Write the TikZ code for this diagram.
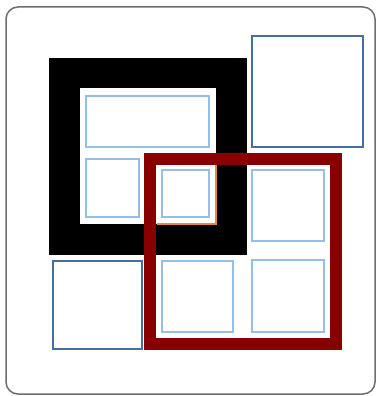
\documentclass[tikz,border=0pt]{standalone}
\usepackage{xcolor}
\definecolor{FrameGray}{RGB}{110,110,110}
\definecolor{CellBlue}{RGB}{150,190,230}
\definecolor{BoxBlue}{RGB}{70,110,160}
\definecolor{DarkRed}{RGB}{136,0,0}
\definecolor{EdgeOrange}{RGB}{235,140,40}

\begin{document}
\begin{tikzpicture}[
x=1pt,y=-1pt,
panel/.style={rectangle,rounded corners=12pt,draw=FrameGray,line width=1.5pt,fill=white},
bigframe/.style={rectangle,draw=#1,inner sep=0pt,outer sep=0pt},
cell/.style={rectangle,draw=CellBlue,line width=1.4pt,inner sep=0pt,outer sep=0pt},
box/.style={rectangle,draw=BoxBlue,line width=1.4pt,inner sep=0pt,outer sep=0pt}
]
\useasboundingbox (0,0) rectangle (377,396);
\fill[white] (0,0) rectangle (377,396);
\node[panel,minimum width=369pt,minimum height=387pt] (panel) at (190.5,200.5) {};
% black frame and its inner edge
\node[bigframe=black,line width=30.5pt,minimum width=167pt,minimum height=166.5pt] (blackframe) at (148,156.25) {};
\draw[EdgeOrange,line width=1.2pt] (216,164) |- (157,224);
% red frame
\node[bigframe=DarkRed,line width=12pt,minimum width=186pt,minimum height=185pt] (redframe) at (243,251.5) {};
% cells inside the frames
\node[cell,minimum width=123pt,minimum height=51pt] (top) at (147.5,121.5) {};
\node[cell,minimum width=53pt,minimum height=58pt] (left) at (112.5,188) {};
\node[cell,minimum width=47pt,minimum height=47pt] (middle) at (185.5,193.5) {};
\node[cell,minimum width=72pt,minimum height=71pt] (right) at (288,205.5) {};
\node[cell,minimum width=71pt,minimum height=71pt] (lowleft) at (197.5,296.5) {};
\node[cell,minimum width=72pt,minimum height=72pt] (lowright) at (288,296) {};
% free boxes
\node[box,minimum width=111pt,minimum height=111pt] (corner) at (307.5,91.5) {};
\node[box,minimum width=89pt,minimum height=88pt] (bottom) at (97.5,305) {};
\end{tikzpicture}
\end{document}
